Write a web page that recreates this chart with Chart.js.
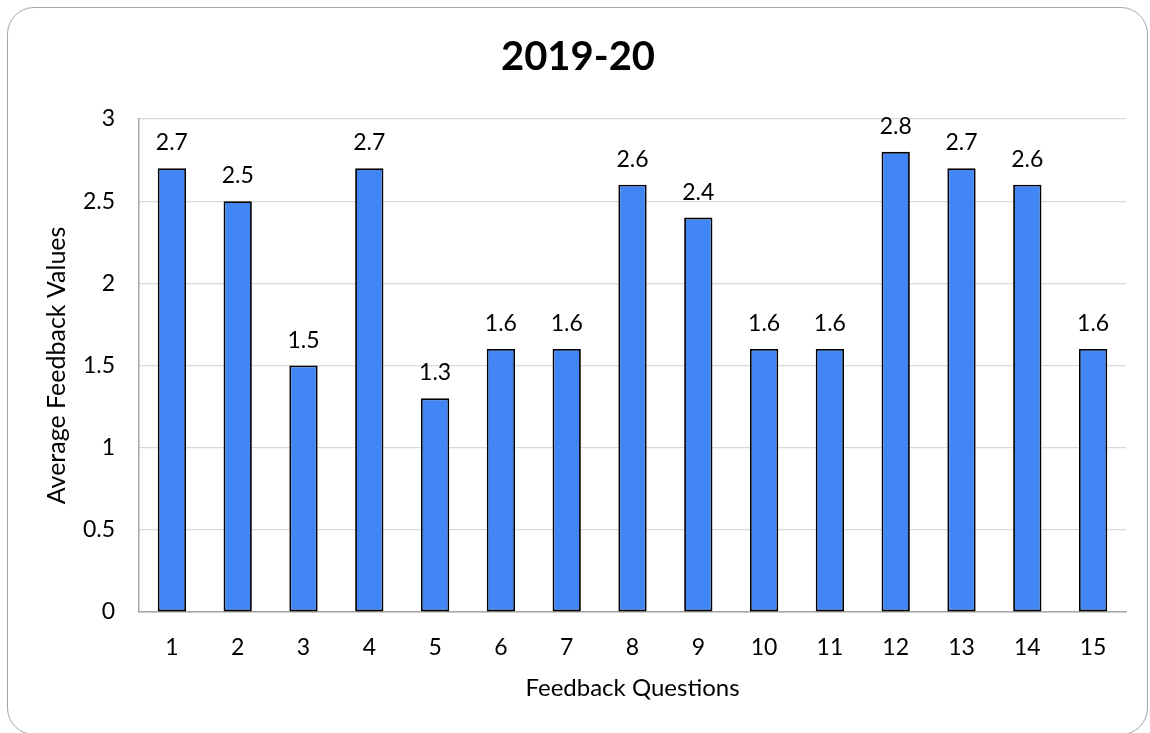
<!DOCTYPE html>
<html>
<head>
<meta charset="utf-8">
<script src="https://cdn.jsdelivr.net/npm/chart.js@4/dist/chart.umd.min.js"></script>
<style>
  html, body { margin: 0; padding: 0; background: #fff; }
  #wrap { position: relative; width: 1150px; height: 733px; overflow: hidden; }
  #frame {
    position: absolute; left: 7px; top: 7px; width: 1139px; height: 726px;
    border: 1.5px solid #a6a6a6; border-radius: 27px; box-sizing: content-box;
    pointer-events: none;
  }
  canvas { position: absolute; left: 0; top: 0; }
</style>
</head>
<body>
<div id="wrap">
  <canvas id="chart" width="1150" height="733"></canvas>
  <div id="frame"></div>
</div>
<script>
const chartTitle = "2019-20";
const questions = ["1", "2", "3", "4", "5", "6", "7", "8", "9", "10", "11", "12", "13", "14", "15"];
const avgValues = [2.7, 2.5, 1.5, 2.7, 1.3, 1.6, 1.6, 2.6, 2.4, 1.6, 1.6, 2.8, 2.7, 2.6, 1.6];
const yTicks = ["0", "0.5", "1", "1.5", "2", "2.5", "3"];
const xTitle = "Feedback Questions";
const yTitle = "Average Feedback Values";

const FONT = "Lato";
const TEXT = "#000";

// draws the value above each bar
const valueLabels = {
  id: "valueLabels",
  afterDatasetsDraw(chart) {
    const ctx = chart.ctx;
    const meta = chart.getDatasetMeta(0);
    ctx.save();
    ctx.font = `23px ${FONT}`;
    ctx.fillStyle = TEXT;
    ctx.textAlign = "center";
    ctx.textBaseline = "alphabetic";
    meta.data.forEach((bar, i) => {
      ctx.fillText(avgValues[i].toFixed(1), bar.x, bar.y - 18);
    });
    ctx.restore();
  },
};

const ctx = document.getElementById("chart").getContext("2d");
new Chart(ctx, {
  type: "bar",
  data: {
    labels: questions,
    datasets: [{
      data: avgValues,
      backgroundColor: "#4285f4",
      borderColor: "#000",
      borderWidth: 1.8,
      borderSkipped: false,
      categoryPercentage: 1,
      barPercentage: 0.43,
    }],
  },
  options: {
    responsive: false,
    animation: false,
    layout: { padding: { left: 30, right: 24, top: 0, bottom: 0 } },
    plugins: {
      legend: { display: false },
      tooltip: { enabled: false },
      title: {
        display: true,
        text: chartTitle,
        color: TEXT,
        font: { family: FONT, size: 40, weight: "bold" },
        padding: { top: 33, bottom: 38 },
      },
    },
    scales: {
      x: {
        grid: { display: false, drawTicks: false },
        border: { color: "#a6a6a6", width: 1.5 },
        ticks: { color: TEXT, font: { family: FONT, size: 23 }, padding: 22 },
        title: {
          display: true,
          text: xTitle,
          color: TEXT,
          font: { family: FONT, size: 24 },
          padding: { top: 0, bottom: 30 },
        },
        afterFit(scale) { scale.height = 121; },
      },
      y: {
        min: 0,
        max: 3,
        grid: { color: "#d9d9d9", lineWidth: 1.2, drawTicks: false },
        border: { display: true, color: "#a6a6a6", width: 1.5 },
        ticks: {
          stepSize: 0.5,
          color: TEXT,
          font: { family: FONT, size: 23 },
          padding: 24,
          callback: (v, i) => yTicks[i],
        },
        title: {
          display: true,
          text: yTitle,
          color: TEXT,
          font: { family: FONT, size: 25 },
          padding: { top: 12, bottom: 0 },
        },
        afterFit(scale) { scale.width = 109; },
      },
    },
  },
  plugins: [valueLabels],
});
</script>
</body>
</html>
